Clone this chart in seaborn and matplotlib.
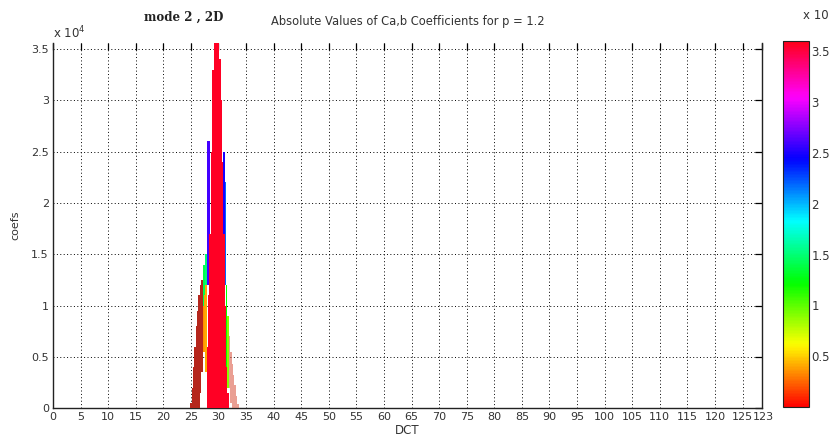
import numpy as np
import seaborn as sns
import matplotlib
matplotlib.use("Agg")
import matplotlib.pyplot as plt
from matplotlib import colors, cm
from matplotlib.transforms import ScaledTranslation

sns.set_theme(style="white")
plt.rcParams["font.family"] = ["DejaVu Sans"]

# axis ticks
x_ticks = list(range(0, 126, 5)) + [128.5]
x_labels = [str(v) for v in range(0, 126, 5)] + ["123"]
y_ticks = [0, 5000, 10000, 15000, 20000, 25000, 30000, 35000]
y_labels = ["0", "0.5", "1", "1.5", "2", "2.5", "3", "3.5"]
cbar_ticks = [5000, 10000, 15000, 20000, 25000, 30000, 35000]
cbar_labels = ["0.5", "1", "1.5", "2", "2.5", "3", "3.5"]

# back rows, coloured by their own height
back_x = [27.25, 27.5, 27.75, 28.0, 28.25, 31.0, 31.25, 31.5, 31.75]
back_bottom = [9000, 9000, 10000, 12000, 12000, 15000, 12000, 4000, 2000]
back_top = [14000, 14000, 15000, 26000, 26000, 25000, 22000, 12000, 9000]

# orange / yellow strip left of the peak
mid_x = [27.0, 27.25, 27.5, 27.75]
mid_bottom = [3500, 5500, 5500, 3500]
mid_top = [8000, 10000, 11000, 12000]

# left outer wedge (shaded side faces)
left_x = [25.0, 25.25, 25.5, 25.75, 26.0, 26.25, 26.5, 26.75, 27.0]
left_bottom = [0, 0, 0, 0, 0, 0, 0, 1500, 3500]
left_top = [500, 2000, 4000, 6000, 8000, 9500, 11000, 12000, 12500]

# right outer wedge
right_x = [32.0, 32.25, 32.5, 32.75, 33.0, 33.25, 33.5]
right_bottom = [2000, 500, 0, 0, 0, 0, 0]
right_top = [7000, 5500, 4300, 3200, 2200, 1200, 400]

# front row: main peak
peak_x = [28.0, 28.25, 28.5, 28.75, 29.0, 29.25, 29.5, 29.75, 30.0,
          30.25, 30.5, 30.75, 31.0, 31.25, 31.5, 31.75]
peak_top = [6000, 11000, 17000, 25000, 33000, 35600, 35600, 35600, 35600,
            34000, 30000, 24000, 17000, 10000, 4000, 1500]

cmap = plt.get_cmap("hsv")
norm = colors.Normalize(vmin=0, vmax=36000)

fig = plt.figure(figsize=(8.33, 4.44), dpi=100)
ax = fig.add_axes([0.0636, 0.081, 0.851, 0.822])
cax = fig.add_axes([0.940, 0.083, 0.031, 0.825])

w = 0.26
ax.bar(back_x, np.array(back_top) - np.array(back_bottom), bottom=back_bottom, width=w,
       color=[cmap(norm(v)) for v in back_top], linewidth=0, zorder=2)
ax.bar(mid_x, np.array(mid_top) - np.array(mid_bottom), bottom=mid_bottom, width=w,
       color=[cmap(norm(v * 0.35)) for v in mid_top], linewidth=0, zorder=3)
ax.bar(left_x, np.array(left_top) - np.array(left_bottom), bottom=left_bottom, width=w,
       color="#b5261c", linewidth=0, zorder=4)
ax.bar(right_x, np.array(right_top) - np.array(right_bottom), bottom=right_bottom, width=w,
       color="#d9503a", alpha=0.55, linewidth=0, zorder=4)
ax.bar(peak_x, peak_top, width=w, color=[cmap(norm(max(peak_top)))], linewidth=0, zorder=5)

ax.set_xlim(0, 128.5)
ax.set_ylim(0, 35600)
ax.set_xticks(x_ticks)
ax.set_xticklabels(x_labels)
ax.set_yticks(y_ticks)
ax.set_yticklabels(y_labels)
ax.tick_params(axis="both", direction="in", length=5, width=0.9, colors="black",
               labelsize=8, labelcolor="#333333", top=True, right=True, pad=3)
# last label sits right after "125", as in the original
last = ax.get_xticklabels()[-1]
last.set_horizontalalignment("left")
last.set_transform(last.get_transform() + ScaledTranslation(-9 / 100, 0, fig.dpi_scale_trans))
ax.grid(True, color="black", linestyle=(0, (1, 2.5)), linewidth=0.7, zorder=1)
ax.set_axisbelow(True)
for side in ["left", "bottom", "right"]:
    ax.spines[side].set_color("#222222")
    ax.spines[side].set_linewidth(1.0)
ax.spines["top"].set_visible(False)

ax.set_xlabel("DCT", fontsize=8.5, color="#333333", labelpad=1)
ax.set_ylabel("coefs", fontsize=8, color="#333333", labelpad=8)
ax.set_title("Absolute Values of Ca,b Coefficients for p = 1.2", fontsize=8.3,
             color="#333333", loc="center", pad=13, x=0.5)
fig.text(0.221, 0.96, "mode 2 , 2D", fontsize=8.5, fontweight="bold",
         family="DejaVu Serif", color="#222222", ha="center", va="center")
fig.text(0.064, 0.925, r"x 10$^4$", fontsize=8.5, color="#333333", ha="left", va="center")

sm = cm.ScalarMappable(norm=norm, cmap=cmap)
cb = fig.colorbar(sm, cax=cax)
cb.set_ticks(cbar_ticks)
cb.set_ticklabels(cbar_labels)
cax.tick_params(direction="in", length=4, left=True, right=True, labelsize=8.5,
                labelcolor="#333333", pad=2)
cb.outline.set_edgecolor("#222222")
cb.outline.set_linewidth(0.8)
fig.text(0.964, 0.966, "x 10", fontsize=8.5, color="#333333", ha="left", va="center")

fig.savefig("out.png", dpi=100)
